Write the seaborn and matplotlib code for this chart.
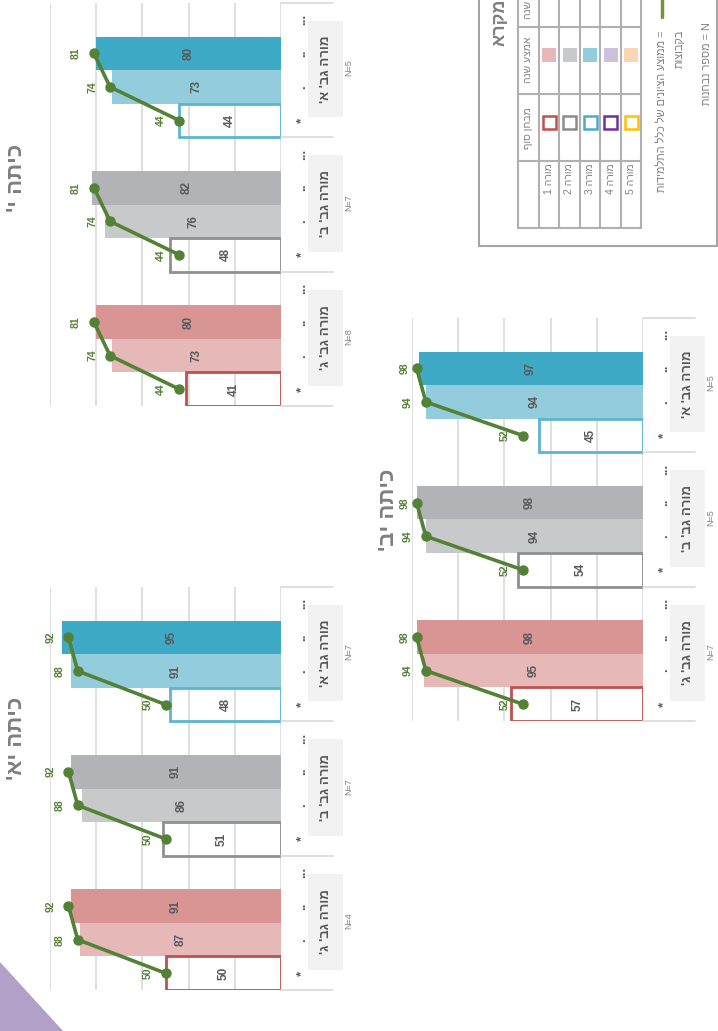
import numpy as np
import pandas as pd
import matplotlib
matplotlib.use('Agg')
import matplotlib.pyplot as plt
import seaborn as sns
from matplotlib.patches import Rectangle, Polygon

sns.set_theme(style='white')
plt.rcParams['font.family'] = ['Liberation Sans', 'DejaVu Sans']

# ---------------- data ----------------
teachers = ["מורה גב' א'", "מורה גב' ב'", "מורה גב' ג'"]
slot_marks = ['...', '..', '.', '*']

title_10 = "כיתה י'"
final_10 = [44, 48, 41]
mid_10 = [73, 76, 73]
year_10 = [80, 82, 80]
avg_10 = [44, 74, 81]   # final, mid, year averages
n_10 = [5, 7, 8]

title_12 = "כיתה יב'"
final_12 = [45, 54, 57]
mid_12 = [94, 94, 95]
year_12 = [97, 98, 98]
avg_12 = [52, 94, 98]
n_12 = [5, 5, 7]

title_11 = "כיתה יא'"
final_11 = [48, 51, 50]
mid_11 = [91, 86, 87]
year_11 = [95, 91, 91]
avg_11 = [50, 88, 92]
n_11 = [7, 7, 4]

legend_rows = ['מורה 1', 'מורה 2', 'מורה 3', 'מורה 4', 'מורה 5']
legend_fill = ['#E6B8B7', '#C8C9CB', '#92CDDC', '#CCC0DA', '#FCD5B4']
legend_edge = ['#C0504D', '#8C8C8C', '#4BACC6', '#7030A0', '#FFC000']

dark = ['#3FAAC6', '#B2B3B6', '#D99594']
light = ['#93CDDD', '#C8C9CB', '#E6B8B7']
outline = ['#5BB5D0', '#8F8F8F', '#C0504D']
GREEN = '#538135'
GRAY_TXT = '#595959'

W, H = 718, 1031


def rtl(s):
    return s[::-1]


fig = plt.figure(figsize=(W / 100, H / 100), dpi=100)
fig.patch.set_facecolor('white')
ax0 = fig.add_axes([0, 0, 1, 1], zorder=0)
ax0.set_xlim(0, W)
ax0.set_ylim(H, 0)
ax0.axis('off')


def draw_chart(px, title, title_xy, final, mid, year, avg, ns):
    x0, x1, y0, y1 = px
    ax = fig.add_axes([x0 / W, 1 - y1 / H, (x1 - x0) / W, (y1 - y0) / H], zorder=2)
    ax.patch.set_alpha(0)
    scale = (x1 - x0) / 100.0

    def xv(off):
        return -off / scale

    order = [f's{i}' for i in range(12)]
    rows = []
    for g in range(3):
        rows.append(dict(slot=f's{4*g+1}', value=year[g], color=dark[g], kind='year'))
        rows.append(dict(slot=f's{4*g+2}', value=mid[g], color=light[g], kind='mid'))
        rows.append(dict(slot=f's{4*g+3}', value=final[g], color=outline[g], kind='final'))
    df = pd.DataFrame(rows)
    fills = df[df.kind != 'final']
    outs = df[df.kind == 'final']
    sns.barplot(data=fills, x='value', y='slot', hue='slot', order=order,
                palette=dict(zip(fills.slot, fills.color)), orient='h', width=1,
                dodge=False, legend=False, errorbar=None, saturation=1, ax=ax,
                linewidth=0)
    sns.barplot(data=outs, x='value', y='slot', hue='slot', order=order,
                palette=dict(zip(outs.slot, outs.color)), orient='h', width=1,
                dodge=False, legend=False, errorbar=None, saturation=1, ax=ax,
                fill=False, linewidth=2)
    ax.set_xlim(100, 0)
    ax.set_ylim(11.5, -0.5)
    ax.set_xticks([0, 20, 40, 60, 80, 100])
    ax.set_axisbelow(True)
    ax.grid(axis='x', color='#D9D9D9', lw=1.2)
    ax.grid(axis='y', visible=False)
    ax.tick_params(labelbottom=False, labelleft=False, length=0)
    ax.set_xlabel('')
    ax.set_ylabel('')
    for s in ax.spines.values():
        s.set_visible(False)

    for _, r in df.iterrows():
        pos = order.index(r.slot)
        ax.text(r.value / 2, pos, str(r.value), rotation=90, ha='center', va='center',
                color=GRAY_TXT, fontweight='bold', fontsize=8.5, zorder=3)

    for g in range(3):
        ys = [4 * g + 1, 4 * g + 2, 4 * g + 3]
        vals = [avg[2], avg[1], avg[0]]
        ax.plot(vals, ys, color=GREEN, lw=2.6, marker='o', ms=6.5, zorder=5,
                clip_on=False)
        for v, yy in zip(vals, ys):
            lx = min(v + 18 / scale, 103)
            ax.text(lx, yy, str(v), rotation=90, ha='center', va='center', color=GREEN,
                    fontweight='bold', fontsize=7.5, zorder=4, clip_on=False)
        for k, m in enumerate(slot_marks):
            ax.text(xv(24), 4 * g + k, m, rotation=90, rotation_mode='anchor',
                    ha='center', va='baseline', fontsize=9.5, fontweight='bold',
                    color=GRAY_TXT, clip_on=False)
        ax.add_patch(Rectangle((xv(62), 4 * g + 0.04), xv(27) - xv(62), 2.86,
                               facecolor='#F2F2F2', edgecolor='none', clip_on=False))
        ax.text(xv(45), 4 * g + 1.47, rtl(teachers[g]), rotation=90, ha='center',
                va='center', fontsize=9.5, fontweight='bold', color=GRAY_TXT, clip_on=False)
        ax.text(xv(68), 4 * g + 1.43, f'N={ns[g]}', rotation=90, ha='center',
                va='center', fontsize=6.5, color='#808080', clip_on=False)
    for g in range(4):
        ax.plot([0, xv(52)], [4 * g - 0.5, 4 * g - 0.5], color='#D9D9D9', lw=1.2,
                clip_on=False)

    ax0.text(title_xy[0], title_xy[1], rtl(title), rotation=90, ha='center', va='center',
             fontsize=16, fontweight='bold', color='#7F7F7F')


draw_chart((50, 281, 3, 406), title_10, (16, 178), final_10, mid_10, year_10, avg_10, n_10)
draw_chart((412, 643, 318, 721), title_12, (389, 510), final_12, mid_12, year_12, avg_12, n_12)
draw_chart((50, 281, 587, 990), title_11, (16, 738), final_11, mid_11, year_11, avg_11, n_11)

# ---------------- legend ----------------
ax0.add_patch(Rectangle((479, -10), 238, 256, facecolor='white', edgecolor='#A6A6A6', lw=1.5))
ax0.text(500, -2, rtl('מקרא'), rotation=90, rotation_mode='anchor', ha='right', va='center',
         fontsize=13, fontweight='bold', color='#7F7F7F')
col_x = [518, 539, 559, 580, 600, 621, 641]
row_y = [228, 161, 94, 27]
for x in col_x:
    ax0.plot([x, x], [-5, 228], color='#B0B0B0', lw=1.5)
for y in row_y:
    ax0.plot([518, 641], [y, y], color='#B0B0B0', lw=1.5)
ax0.text(528, 128, rtl('מבחן סוף'), rotation=90, ha='center', va='center', fontsize=7.5,
         color='#808080')
ax0.text(528, 60, rtl('אמצע שנה'), rotation=90, ha='center', va='center', fontsize=7.5,
         color='#808080')
ax0.text(528, 19, rtl('סוף שנה'), rotation=90, rotation_mode='anchor', ha='left',
         va='center', fontsize=7.5, color='#808080')
for i, lab in enumerate(legend_rows):
    cx = (col_x[i + 1] + col_x[i + 2]) / 2
    ax0.text(cx, 163, rtl(lab), rotation=90, rotation_mode='anchor', ha='right',
             va='center', fontsize=7.5, color='#808080')
    ax0.add_patch(Rectangle((cx - 6.5, 116), 13, 13, facecolor='none',
                            edgecolor=legend_edge[i], lw=1.8))
    ax0.add_patch(Rectangle((cx - 7, 48), 14, 14, facecolor=legend_fill[i], edgecolor='none'))
ax0.plot([662, 662], [-2, 17], color='#76923C', lw=2.5)
ax0.text(662, 30, rtl('= ממוצע הציונים של כלל התלמידות'), rotation=90, rotation_mode='anchor',
         ha='right', va='center', fontsize=7.8, color='#808080')
ax0.text(680, 30, rtl('בקבוצות'), rotation=90, rotation_mode='anchor',
         ha='right', va='center', fontsize=7.8, color='#808080')
ax0.text(707, 22, rtl('N = מספר נבחנות'), rotation=90, rotation_mode='anchor',
         ha='right', va='center', fontsize=7.8, color='#808080')

# decorative triangle
ax0.add_patch(Polygon([(0, 962), (63, 1031), (0, 1031)], closed=True,
                      facecolor='#B1A0C7', edgecolor='none'))

fig.savefig('out.png', dpi=100)
